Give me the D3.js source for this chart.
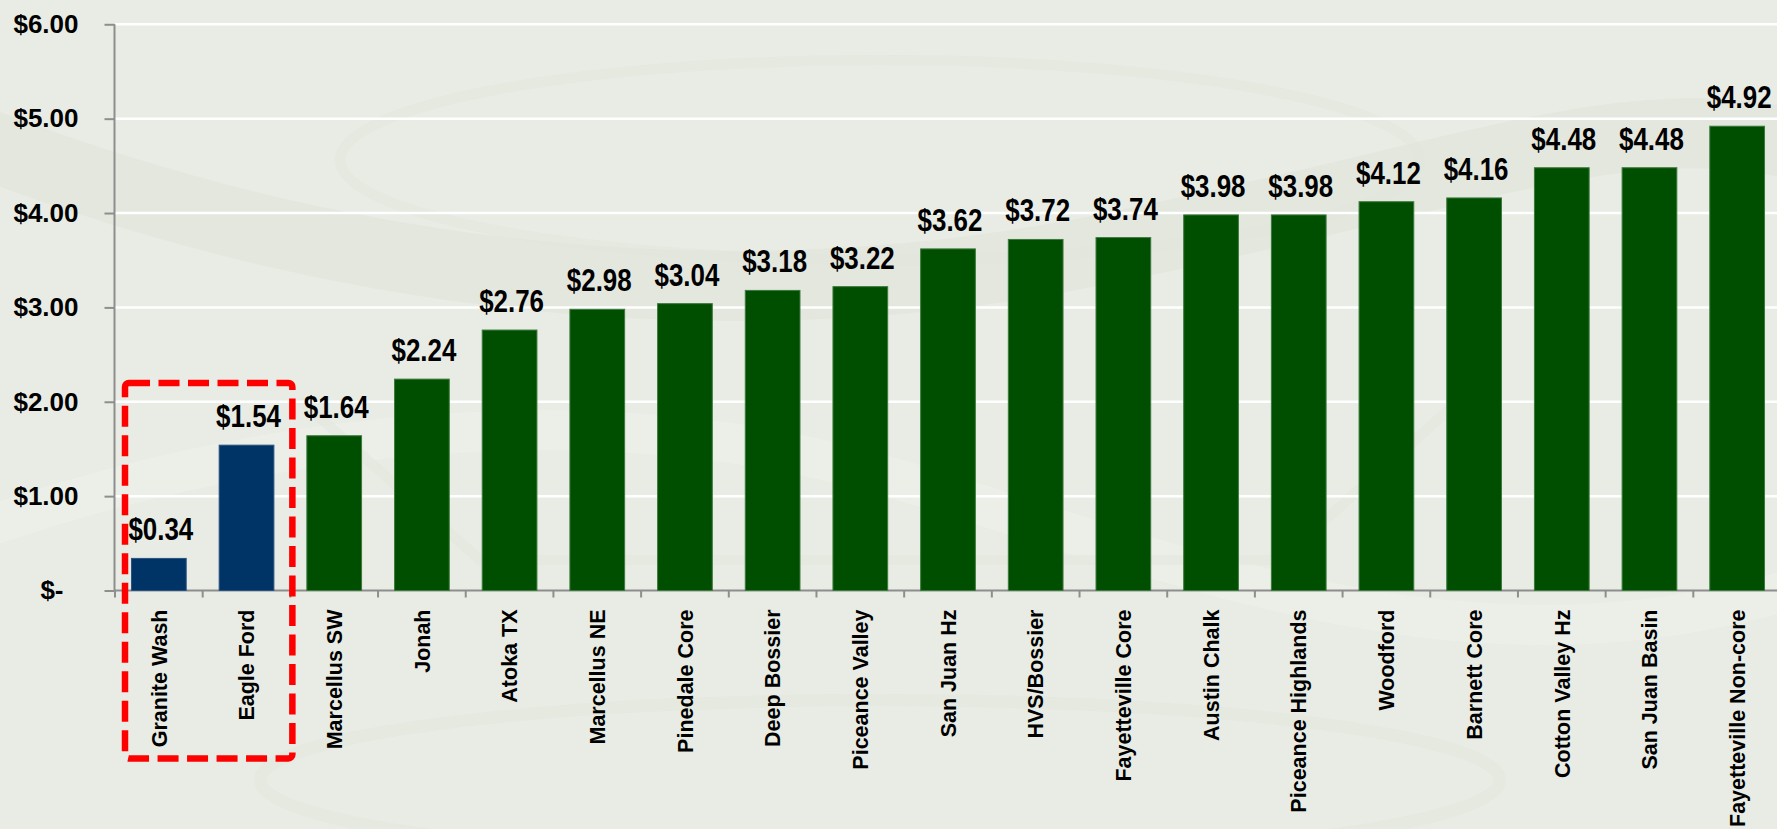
<!DOCTYPE html>
<meta charset="utf-8">
<style>
  body { margin: 0; background: #e8ece4; overflow: hidden; }
  .axis path, .axis line { stroke: #8e8e8e; stroke-width: 2; fill: none; }
  .axis text { font: bold 26px "Liberation Sans", Arial, sans-serif; fill: #000; }
  .value { font: bold 32px "Liberation Sans", Arial, sans-serif; fill: #000; }
  .cat { font: bold 21.5px "Liberation Sans", Arial, sans-serif; fill: #000; }
</style>
<body>
<script src="https://d3js.org/d3.v7.min.js"></script>
<script>

// data
var categories = ["Granite Wash", "Eagle Ford", "Marcellus SW", "Jonah", "Atoka TX", "Marcellus NE",
  "Pinedale Core", "Deep Bossier", "Piceance Valley", "San Juan Hz", "HVS/Bossier", "Fayetteville Core",
  "Austin Chalk", "Piceance Highlands", "Woodford", "Barnett Core", "Cotton Valley Hz", "San Juan Basin",
  "Fayetteville Non-core"];
var values = [0.34, 1.54, 1.64, 2.24, 2.76, 2.98, 3.04, 3.18, 3.22, 3.62, 3.72, 3.74, 3.98, 3.98, 4.12,
  4.16, 4.48, 4.48, 4.92];
var highlighted = ["Granite Wash", "Eagle Ford"];
var yTicks = [0, 1, 2, 3, 4, 5, 6];

var W = 1777, H = 829;
var pad = 0.376;

var svg = d3.select("body").append("svg")
  .attr("width", W)
  .attr("height", H);

// faint watermark swooshes in the background
var bg = svg.append("g").attr("fill", "none");
bg.append("path").attr("d", "M-50,130 C300,270 700,330 1100,250 S1650,90 1850,160")
  .attr("stroke", "#e0e5db").attr("stroke-width", 70).attr("opacity", 0.6);
bg.append("path").attr("d", "M-50,540 C250,430 600,390 900,480 S1500,700 1850,570")
  .attr("stroke", "#eef1ea").attr("stroke-width", 40).attr("opacity", 0.7);
bg.append("ellipse").attr("cx", 880).attr("cy", 160).attr("rx", 540).attr("ry", 100)
  .attr("stroke", "#e1e6dc").attr("stroke-width", 10).attr("opacity", 0.5);
bg.append("ellipse").attr("cx", 880).attr("cy", 780).attr("rx", 620).attr("ry", 80)
  .attr("stroke", "#e1e6dc").attr("stroke-width", 12).attr("opacity", 0.5);
bg.append("path").attr("d", "M300,400 L480,560 L1280,560 L1460,400")
  .attr("stroke", "#e1e6dc").attr("stroke-width", 10).attr("opacity", 0.5);

var x = d3.scaleBand()
  .domain(categories)
  .range([115, 1781])
  .paddingInner(pad)
  .paddingOuter(pad / 2);

var y = d3.scaleLinear()
  .domain([0, 6])
  .range([590.5, 24.3]);

var data = categories.map(function(c, i) { return {name: c, value: values[i]}; });

// gridlines
svg.append("g").selectAll("line")
  .data(yTicks.filter(function(t) { return t > 0; }))
  .enter().append("line")
  .attr("x1", 115).attr("x2", W)
  .attr("y1", function(d) { return y(d); })
  .attr("y2", function(d) { return y(d); })
  .attr("stroke", "#ffffff")
  .attr("stroke-width", 2.5);

// y axis
var yAxis = svg.append("g")
  .attr("class", "axis")
  .attr("transform", "translate(114.5,0)")
  .call(d3.axisLeft(y).tickValues(yTicks).tickSize(10).tickPadding(26)
    .tickFormat(function(d) { return d === 0 ? "$-" : "$" + d3.format(".2f")(d); }));
yAxis.select(".domain").attr("d", "M0," + y(6) + "V" + y(0));
yAxis.selectAll(".tick text").filter(function(d) { return d === 0; }).attr("dx", -15);

// x axis with ticks at band boundaries
var step = x.step();
var bounds = categories.map(function(c) { return x(c) - step * pad / 2; });
bounds.push(x(categories[categories.length - 1]) + x.bandwidth() + step * pad / 2);
var xAxis = svg.append("g").attr("class", "axis");
xAxis.append("line")
  .attr("x1", 114.5).attr("x2", W)
  .attr("y1", y(0)).attr("y2", y(0));
xAxis.selectAll(".xt")
  .data(bounds)
  .enter().append("line")
  .attr("class", "xt")
  .attr("x1", function(d) { return d; }).attr("x2", function(d) { return d; })
  .attr("y1", y(0)).attr("y2", y(0) + 7);

// bars
svg.selectAll(".bar")
  .data(data)
  .enter().append("rect")
  .attr("class", "bar")
  .attr("x", function(d) { return x(d.name); })
  .attr("width", x.bandwidth())
  .attr("y", function(d) { return y(d.value); })
  .attr("height", function(d) { return y(0) - y(d.value); })
  .attr("fill", function(d) { return highlighted.indexOf(d.name) >= 0 ? "#003366" : "#004f00"; })
  .attr("stroke", function(d) { return highlighted.indexOf(d.name) >= 0 ? "#2a5380" : "#3d7a3d"; })
  .attr("stroke-width", 1);

// value labels (condensed like the original narrow face)
svg.selectAll(".value")
  .data(data)
  .enter().append("text")
  .attr("class", "value")
  .attr("text-anchor", "middle")
  .attr("transform", function(d) {
    return "translate(" + (x(d.name) + x.bandwidth() / 2 + 2) + "," + (y(d.value) - 18) + ") scale(0.81,1)";
  })
  .text(function(d) { return "$" + d3.format(".2f")(d.value); });

// category labels
svg.selectAll(".cat")
  .data(data)
  .enter().append("text")
  .attr("class", "cat")
  .attr("text-anchor", "end")
  .attr("transform", function(d) {
    return "translate(" + (x(d.name) + x.bandwidth() / 2) + "," + (y(0) + 19) + ") rotate(-90)";
  })
  .attr("dy", "0.36em")
  .text(function(d) { return d.name; });

// red dashed highlight box round the first two categories
var boxL = bounds[0] + 10, boxR = bounds[2] + 2;
svg.append("rect")
  .attr("x", boxL)
  .attr("y", y(2.2))
  .attr("width", boxR - boxL)
  .attr("height", y(-1.78) - y(2.2))
  .attr("rx", 4)
  .attr("fill", "none")
  .attr("stroke", "#ff0000")
  .attr("stroke-width", 6.5)
  .attr("stroke-dasharray", "21,8.5");

</script>
</body>
